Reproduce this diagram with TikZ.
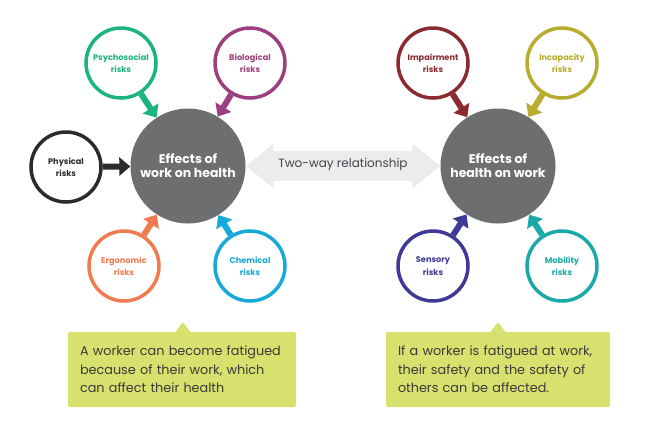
\documentclass[tikz,border=0pt]{standalone}
\usepackage{fontspec}
\setmainfont{Poppins}
\usepackage{xcolor}
\usetikzlibrary{arrows.meta,positioning,shapes.callouts}

\definecolor{effgray}{HTML}{6D6E70}
\definecolor{waygray}{HTML}{EBECEB}
\definecolor{waytext}{HTML}{3F444A}
\definecolor{notegreen}{HTML}{D9E16E}
\definecolor{notetext}{HTML}{3A3A3A}
\definecolor{psycol}{HTML}{1BB37E}
\definecolor{biocol}{HTML}{9B3F7E}
\definecolor{phycol}{HTML}{2B2B2B}
\definecolor{ergcol}{HTML}{F07B4E}
\definecolor{chemcol}{HTML}{17A9D8}
\definecolor{impcol}{HTML}{8B2A2F}
\definecolor{inccol}{HTML}{B8AC2E}
\definecolor{sencol}{HTML}{3E3A96}
\definecolor{mobcol}{HTML}{1BA8A9}

\begin{document}
\begin{tikzpicture}[x=1pt, y=-1pt,
  risk/.style={circle, draw=#1, line width=3.5pt, fill=white, minimum size=70pt,
               inner sep=0pt, align=center, text=#1, font=\fontsize{8.2}{12.5}\selectfont\bfseries},
  effect/.style={circle, fill=effgray, minimum size=115pt, inner sep=0pt, align=center,
                 text=white, font=\fontsize{12.5}{14}\selectfont\bfseries},
  arrow/.style={draw=#1, line width=6pt, -{Triangle[width=18pt,length=11pt]}},
  twoway/.style={draw=waygray, line width=30pt,
                 {Triangle[width=43pt,length=28pt]}-{Triangle[width=43pt,length=28pt]}},
  note/.style={rectangle callout, fill=notegreen, rounded corners=2pt, callout pointer width=15pt,
               inner xsep=12pt, text width=204pt, minimum height=75pt, align=left,
               text=notetext, font=\fontsize{12.8}{18.5}\selectfont}
]
  \fill[white] (0,0) rectangle (650,432);
  \useasboundingbox (0,0) rectangle (650,432);

  % effects of work on health
  \node[effect] (work) at (188,166) {Effects of\\work on health};
  \node[risk=psycol]  (psy)  at (121,63)  {Psychosocial\\risks};
  \node[risk=biocol]  (bio)  at (250,63)  {Biological\\risks};
  \node[risk=phycol]  (phy)  at (66,167)  {Physical\\risks};
  \node[risk=ergcol]  (erg)  at (124,266) {Ergonomic\\risks};
  \node[risk=chemcol] (chem) at (250,266) {Chemical\\risks};

  \draw[arrow=psycol]  (psy)  -- (work);
  \draw[arrow=biocol]  (bio)  -- (work);
  \draw[arrow=phycol]  (phy)  -- (work);
  \draw[arrow=ergcol]  (erg)  -- (work);
  \draw[arrow=chemcol] (chem) -- (work);

  % effects of health on work
  \node[effect] (health) at (498,166) {Effects of\\health on work};
  \node[risk=impcol] (imp) at (433,63)  {Impairment\\risks};
  \node[risk=inccol] (inc) at (562,63)  {Incapacity\\risks};
  \node[risk=sencol] (sen) at (433,266) {Sensory\\risks};
  \node[risk=mobcol] (mob) at (562,266) {Mobility\\risks};

  \draw[arrow=impcol] (imp) -- (health);
  \draw[arrow=inccol] (inc) -- (health);
  \draw[arrow=sencol] (sen) -- (health);
  \draw[arrow=mobcol] (mob) -- (health);

  \draw[twoway] (work) -- (health)
    node[midway, yshift=2pt, text=waytext, font=\fontsize{12}{14}\selectfont] (way) {Two-way relationship};

  % notes
  \coordinate (tipL) at (183,322);
  \coordinate (tipR) at (498,322);
  \node[note, callout absolute pointer={(tipL)}] (noteL) at (182,369.5)
    {A worker can become fatigued\\because of their work, which\\can affect their health};
  \node[note, text width=200pt, callout absolute pointer={(tipR)}] (noteR) at (498,369.5)
    {If a worker is fatigued at work,\\their safety and the safety of\\others can be affected.};
\end{tikzpicture}
\end{document}
